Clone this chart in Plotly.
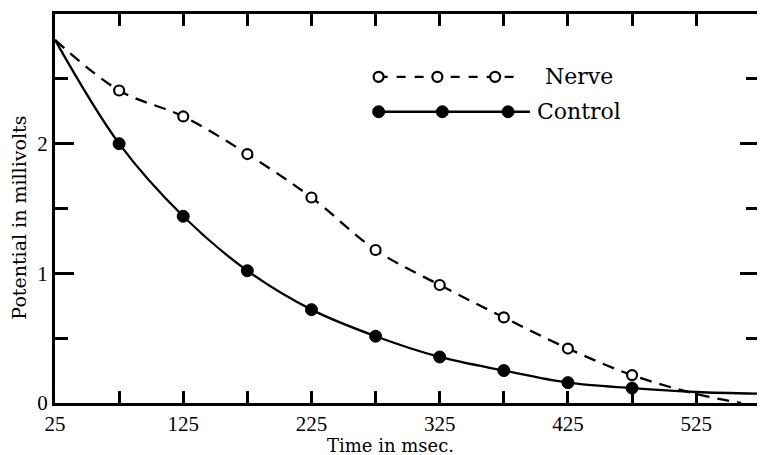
import plotly.graph_objects as go

# ---------------- data ----------------
time_ms = [75, 125, 175, 225, 275, 325, 375, 425, 475]
nerve_mv = [2.41, 2.21, 1.92, 1.585, 1.18, 0.91, 0.66, 0.42, 0.215]
control_mv = [2.0, 1.44, 1.02, 0.72, 0.515, 0.355, 0.25, 0.157, 0.115]

start_ms = [25]
start_mv = [2.8]
nerve_tail_ms = [525, 560]
nerve_tail_mv = [0.07, 0.0]
control_tail_ms = [525, 574]
control_tail_mv = [0.085, 0.072]

x_tick_vals = [25, 125, 225, 325, 425, 525]
x_tick_text = ["25", "125", "225", "325", "425", "525"]
y_tick_vals = [0, 1, 2]
y_tick_text = ["0", "1", "2"]

legend_labels = ["Nerve", "Control"]

# ---------------- geometry (page pixels; page body has an 8px margin) ----------------
OFF = 8
PAGE_W, PAGE_H = 765, 455
PLOT_L, PLOT_R, PLOT_T, PLOT_B = 55, 762, 13, 403
W, H = PAGE_W - OFF, PAGE_H - OFF
ML, MT = PLOT_L - OFF, PLOT_T - OFF
MR = PAGE_W - PLOT_R
MB = PAGE_H - PLOT_B
PW, PH = PLOT_R - PLOT_L, PLOT_B - PLOT_T


def px(xpix):
    return (xpix - PLOT_L) / PW


def py(ypix):
    return (PLOT_B - ypix) / PH


fig = go.Figure()

# smooth curves
fig.add_trace(go.Scatter(
    x=start_ms + time_ms + nerve_tail_ms, y=start_mv + nerve_mv + nerve_tail_mv,
    mode="lines", line=dict(shape="spline", smoothing=1.0, color="black", width=2.3, dash="12px,8px"),
    showlegend=False, hoverinfo="skip"))
fig.add_trace(go.Scatter(
    x=start_ms + time_ms + control_tail_ms, y=start_mv + control_mv + control_tail_mv,
    mode="lines", line=dict(shape="spline", smoothing=1.0, color="black", width=2.3),
    showlegend=False, hoverinfo="skip"))

# markers
fig.add_trace(go.Scatter(
    x=time_ms, y=nerve_mv, mode="markers", name="Nerve",
    marker=dict(symbol="circle", size=10, color="white", line=dict(color="black", width=2.2)),
    showlegend=False))
fig.add_trace(go.Scatter(
    x=time_ms, y=control_mv, mode="markers", name="Control",
    marker=dict(symbol="circle", size=12, color="black", line=dict(color="black", width=1)),
    showlegend=False))

# ---------------- manual legend ----------------
shapes = []
annotations = []
rows = [
    dict(y=76, x0=380, x1=517, dash="dash", pts=[380, 439, 497], open=True, tx=545),
    dict(y=111, x0=380, x1=532, dash="solid", pts=[380, 444, 510], open=False, tx=537),
]
for lab, r in zip(legend_labels, rows):
    shapes.append(dict(type="line", xref="paper", yref="paper",
                       x0=px(r["x0"]), x1=px(r["x1"]), y0=py(r["y"]), y1=py(r["y"]),
                       line=dict(color="black", width=2.3, dash=r["dash"])))
    for p in r["pts"]:
        rad = 5 if r["open"] else 6
        shapes.append(dict(type="circle", xref="paper", yref="paper",
                           xsizemode="pixel", ysizemode="pixel",
                           xanchor=px(p), yanchor=py(r["y"]),
                           x0=-rad, x1=rad, y0=-rad, y1=rad,
                           fillcolor="white" if r["open"] else "black",
                           line=dict(color="black", width=2.2 if r["open"] else 1)))
    annotations.append(dict(text=lab, xref="paper", yref="paper", x=px(r["tx"]), y=py(r["y"]),
                            xanchor="left", yanchor="middle", showarrow=False,
                            font=dict(family="DejaVu Serif", size=22, color="black")))

# axis titles
annotations.append(dict(text="Time in msec.", xref="paper", yref="paper",
                        x=px(392), y=py(446), xanchor="center", yanchor="middle", showarrow=False,
                        font=dict(family="DejaVu Serif", size=18, color="black")))
annotations.append(dict(text="Potential in millivolts", xref="paper", yref="paper",
                        x=px(19), y=py(217), xanchor="center", yanchor="middle", showarrow=False,
                        textangle=-90, borderpad=0,
                        font=dict(family="DejaVu Serif", size=19, color="black")))

fig.update_layout(
    width=W, height=H,
    margin=dict(l=ML, r=MR, t=MT, b=MB, pad=0),
    paper_bgcolor="white", plot_bgcolor="white",
    shapes=shapes, annotations=annotations,
    showlegend=False,
    font=dict(family="Liberation Serif", size=18, color="black"),
)

fig.update_xaxes(
    range=[25, 574], tickmode="array", tickvals=x_tick_vals, ticktext=x_tick_text,
    ticks="inside", ticklen=12, tickwidth=2.5, tickcolor="black",
    minor=dict(tick0=25, dtick=50, ticks="inside", ticklen=12, tickwidth=2.5, tickcolor="black"),
    showline=True, linewidth=3, linecolor="black", mirror="ticks",
    showgrid=False, zeroline=False,
    tickfont=dict(family="Liberation Serif", size=21, color="black"),
)
fig.update_yaxes(
    range=[0, 3.0], tickmode="array", tickvals=y_tick_vals, ticktext=y_tick_text,
    ticks="inside", ticklen=19, tickwidth=2.5, tickcolor="black",
    minor=dict(tick0=0, dtick=0.5, ticks="inside", ticklen=13, tickwidth=2.5, tickcolor="black"),
    showline=True, linewidth=3, linecolor="black", mirror="ticks",
    showgrid=False, zeroline=False,
    tickfont=dict(family="Liberation Serif", size=21, color="black"),
)

fig.write_html("out.html")
